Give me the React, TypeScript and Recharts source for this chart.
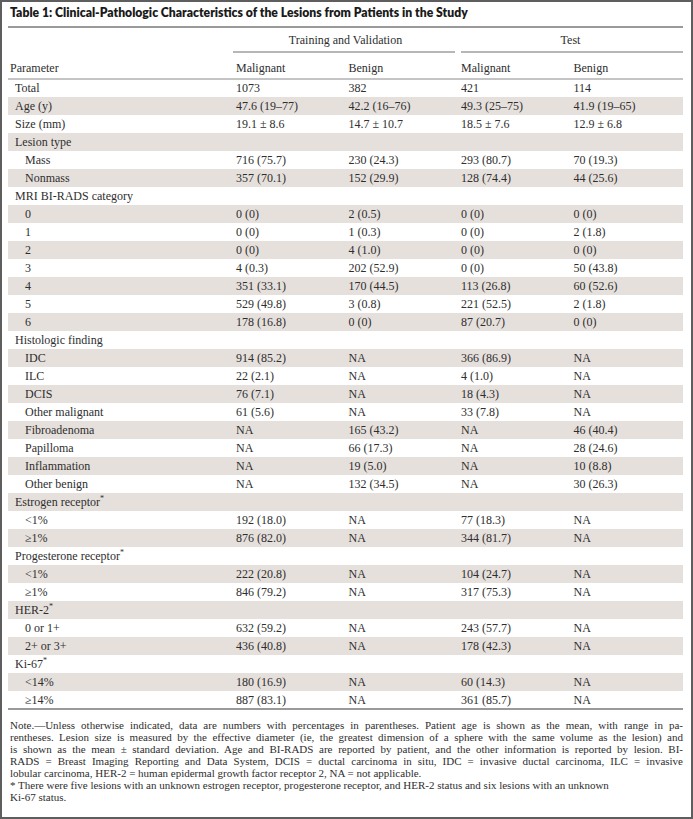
import React from 'react';
import { ScatterChart, Scatter, XAxis, YAxis } from 'recharts';

// ---------------- data ----------------
const tableTitle = 'Table 1: Clinical-Pathologic Characteristics of the Lesions from Patients in the Study';
const groupLabels = ['Training and Validation', 'Test'];
const columnLabels = ['Malignant', 'Benign', 'Malignant', 'Benign'];
const parameterHeader = 'Parameter';

const rowLabels = [
  'Total', 'Age (y)', 'Size (mm)', 'Lesion type', 'Mass', 'Nonmass',
  'MRI BI-RADS category', '0', '1', '2', '3', '4', '5', '6',
  'Histologic finding', 'IDC', 'ILC', 'DCIS', 'Other malignant', 'Fibroadenoma',
  'Papilloma', 'Inflammation', 'Other benign',
  'Estrogen receptor*', '<1%', '≥1%',
  'Progesterone receptor*', '<1%', '≥1%',
  'HER-2*', '0 or 1+', '2+ or 3+',
  'Ki-67*', '<14%', '≥14%',
];
const rowLevel = [
  0, 0, 0, 0, 1, 1,
  0, 1, 1, 1, 1, 1, 1, 1,
  0, 1, 1, 1, 1, 1,
  1, 1, 1,
  0, 1, 1,
  0, 1, 1,
  0, 1, 1,
  0, 1, 1,
];

const trainMalignant = [
  '1073', '47.6 (19–77)', '19.1 ± 8.6', '', '716 (75.7)', '357 (70.1)',
  '', '0 (0)', '0 (0)', '0 (0)', '4 (0.3)', '351 (33.1)', '529 (49.8)', '178 (16.8)',
  '', '914 (85.2)', '22 (2.1)', '76 (7.1)', '61 (5.6)', 'NA',
  'NA', 'NA', 'NA',
  '', '192 (18.0)', '876 (82.0)',
  '', '222 (20.8)', '846 (79.2)',
  '', '632 (59.2)', '436 (40.8)',
  '', '180 (16.9)', '887 (83.1)',
];
const trainBenign = [
  '382', '42.2 (16–76)', '14.7 ± 10.7', '', '230 (24.3)', '152 (29.9)',
  '', '2 (0.5)', '1 (0.3)', '4 (1.0)', '202 (52.9)', '170 (44.5)', '3 (0.8)', '0 (0)',
  '', 'NA', 'NA', 'NA', 'NA', '165 (43.2)',
  '66 (17.3)', '19 (5.0)', '132 (34.5)',
  '', 'NA', 'NA',
  '', 'NA', 'NA',
  '', 'NA', 'NA',
  '', 'NA', 'NA',
];
const testMalignant = [
  '421', '49.3 (25–75)', '18.5 ± 7.6', '', '293 (80.7)', '128 (74.4)',
  '', '0 (0)', '0 (0)', '0 (0)', '0 (0)', '113 (26.8)', '221 (52.5)', '87 (20.7)',
  '', '366 (86.9)', '4 (1.0)', '18 (4.3)', '33 (7.8)', 'NA',
  'NA', 'NA', 'NA',
  '', '77 (18.3)', '344 (81.7)',
  '', '104 (24.7)', '317 (75.3)',
  '', '243 (57.7)', '178 (42.3)',
  '', '60 (14.3)', '361 (85.7)',
];
const testBenign = [
  '114', '41.9 (19–65)', '12.9 ± 6.8', '', '70 (19.3)', '44 (25.6)',
  '', '0 (0)', '2 (1.8)', '0 (0)', '50 (43.8)', '60 (52.6)', '2 (1.8)', '0 (0)',
  '', 'NA', 'NA', 'NA', 'NA', '46 (40.4)',
  '28 (24.6)', '10 (8.8)', '30 (26.3)',
  '', 'NA', 'NA',
  '', 'NA', 'NA',
  '', 'NA', 'NA',
  '', 'NA', 'NA',
];

const noteLines = [
  'Note.—Unless otherwise indicated, data are numbers with percentages in parentheses. Patient age is shown as the mean, with range in pa-',
  'rentheses. Lesion size is measured by the effective diameter (ie, the greatest dimension of a sphere with the same volume as the lesion) and',
  'is shown as the mean ± standard deviation. Age and BI-RADS are reported by patient, and the other information is reported by lesion. BI-',
  'RADS = Breast Imaging Reporting and Data System, DCIS = ductal carcinoma in situ, IDC = invasive ductal carcinoma, ILC = invasive',
  'lobular carcinoma, HER-2 = human epidermal growth factor receptor 2, NA = not applicable.',
  '* There were five lesions with an unknown estrogen receptor, progesterone receptor, and HER-2 status and six lesions with an unknown',
  'Ki-67 status.',
];
const justifiedNoteLines = 4;

// ---------------- layout / style ----------------
const W = 693;
const H = 819;
const SERIF = '"Liberation Serif", "Times New Roman", serif';
const SANS = 'Lato, "Noto Sans", sans-serif';
const TEXT = '#2e2e2e';
const BAND = '#e6e0dc';
const PLOT_LEFT = 8;
const PLOT_RIGHT = 683;
const ROW_H = 18;
const UNIT = (PLOT_RIGHT - PLOT_LEFT) / 6;
const HEADER_H = 26;

const labelPoints = rowLabels.map((label, i) => ({ x: -2, y: i + 0.5, label, level: rowLevel[i] }));
const bandPoints = labelPoints.filter((_, i) => i % 2 === 1);
const valueColumns = [trainMalignant, trainBenign, testMalignant, testBenign];
const valuePoints = valueColumns.map((vals, j) => vals.map((v, i) => ({ x: j, y: i + 0.5, text: v })));

const LabelText = ({ x, y, label }: any) => {
  const star = label.endsWith('*');
  const main = star ? label.slice(0, -1) : label;
  return (
    <text x={x} y={y} dominantBaseline="central" fontFamily={SERIF} fontSize={12} fill={TEXT}>
      {main}
      {star ? <tspan fontSize={8} dy={-4}>*</tspan> : null}
    </text>
  );
};

const BandShape = (p: any) => (
  <rect x={p.cx} y={p.cy - ROW_H / 2} width={PLOT_RIGHT - PLOT_LEFT} height={ROW_H} fill={BAND} />
);
const RowLabelShape = (p: any) => (
  <LabelText x={p.cx + 7 + p.payload.level * 10} y={p.cy} label={p.payload.label} />
);
const ValueShape = (p: any) =>
  p.payload.text ? (
    <text x={p.cx + 3} y={p.cy} dominantBaseline="central" fontFamily={SERIF} fontSize={12} fill={TEXT}>
      {p.payload.text}
    </text>
  ) : (
    <g />
  );

// Column header tick: column label; every other tick also draws its group header and underline.
const ColTick = (p: any) => {
  const groupIdx = p.index % 2 === 0 ? p.index / 2 : -1;
  const firstGroup = groupIdx === 0;
  return (
    <g>
      {p.index === 0 ? (
        <text x={PLOT_LEFT + 2} y={p.y - 11} dominantBaseline="central" fontFamily={SERIF} fontSize={12} fill={TEXT}>
          {parameterHeader}
        </text>
      ) : null}
      <text x={p.x + 3} y={p.y - 11} dominantBaseline="central" fontFamily={SERIF} fontSize={12} fill={TEXT}>
        {columnLabels[p.index]}
      </text>
      {groupIdx >= 0 ? (
        <g>
          <text
            x={p.x + UNIT}
            y={p.y - HEADER_H - 13}
            textAnchor="middle"
            dominantBaseline="central"
            fontFamily={SERIF}
            fontSize={12}
            fill={TEXT}
          >
            {groupLabels[groupIdx]}
          </text>
          <line
            x1={p.x + (firstGroup ? 0 : 3)}
            x2={p.x + 2 * UNIT - (firstGroup ? 3 : 0)}
            y1={p.y - HEADER_H - 1}
            y2={p.y - HEADER_H - 1}
            stroke="#6f6f6f"
            strokeWidth={1}
          />
        </g>
      ) : null}
    </g>
  );
};

export default function App() {
  return (
    <div style={{ position: 'absolute', left: 0, top: 0, width: W, height: H, background: '#fff', overflow: 'hidden' }}>
      <ScatterChart width={W} height={H} margin={{ top: 27 + HEADER_H, right: W - PLOT_RIGHT, bottom: 106, left: PLOT_LEFT }}>
        <XAxis
          type="number"
          dataKey="x"
          domain={[-2, 4]}
          ticks={[0, 1, 2, 3]}
          interval={0}
          orientation="top"
          height={HEADER_H}
          tickSize={0}
          tickMargin={0}
          tickLine={false}
          axisLine={{ stroke: '#8a8a8a', strokeWidth: 1 }}
          tick={<ColTick />}
          allowDataOverflow
        />
        <XAxis
          xAxisId="bottom"
          type="number"
          domain={[-2, 4]}
          orientation="bottom"
          height={4}
          tick={false}
          tickLine={false}
          axisLine={{ stroke: '#9a9a9a', strokeWidth: 2 }}
          allowDataOverflow
        />
        <YAxis type="number" dataKey="y" domain={[0, 35]} reversed hide allowDataOverflow />
        <Scatter data={bandPoints} shape={BandShape} isAnimationActive={false} />
        <Scatter data={labelPoints} shape={RowLabelShape} isAnimationActive={false} />
        {valuePoints.map((pts, j) => (
          <Scatter key={j} data={pts} shape={ValueShape} isAnimationActive={false} />
        ))}
      </ScatterChart>

      <div
        style={{
          position: 'absolute', left: 10, top: 5, fontFamily: SANS, fontWeight: 800, fontSize: 12.2,
          color: '#1a1a1a', whiteSpace: 'nowrap', lineHeight: '16px',
        }}
      >
        {tableTitle}
      </div>
      <div style={{ position: 'absolute', left: PLOT_LEFT, top: 26, width: PLOT_RIGHT - PLOT_LEFT, height: 2, background: '#9a9a9a' }} />

      <div style={{ position: 'absolute', left: 10, top: 719, width: 673, fontFamily: SERIF, fontSize: 11, lineHeight: '12px', color: TEXT }}>
        {noteLines.map((line, i) => (
          <div
            key={i}
            style={{
              whiteSpace: i < justifiedNoteLines ? 'normal' : 'nowrap',
              textAlign: i < justifiedNoteLines ? 'justify' : 'left',
              textAlignLast: i < justifiedNoteLines ? 'justify' : 'left',
              height: 12,
              overflow: 'visible',
            } as any}
          >
            {line}
          </div>
        ))}
      </div>

      <div style={{ position: 'absolute', left: 0, top: 0, width: W, height: H, boxSizing: 'border-box', border: '2px solid #5e5e5e', pointerEvents: 'none' }} />
    </div>
  );
}
